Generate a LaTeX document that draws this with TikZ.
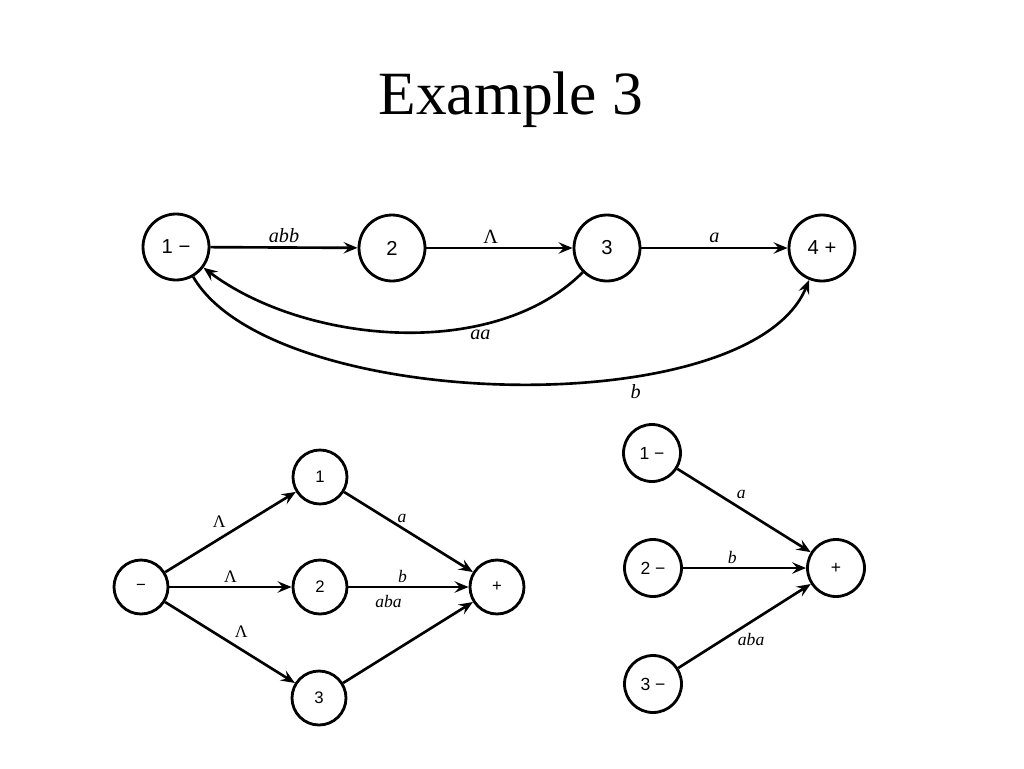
\documentclass[tikz,border=0pt]{standalone}
\usepackage{fontspec}
\setmainfont{Liberation Serif}
\newfontfamily\statefont{Liberation Sans}
\usetikzlibrary{arrows.meta}

\tikzset{
  state/.style={draw,circle,line width=1.6pt,inner sep=0pt,minimum size=1.32cm,
    font=\statefont\fontsize{11.5}{13}\selectfont},
  smallstate/.style={state,minimum size=1.08cm,font=\statefont\fontsize{9.5}{11}\selectfont},
  midstate/.style={state,minimum size=1.14cm,font=\statefont\fontsize{10}{11}\selectfont},
  edge/.style={->,line width=1.5pt},
  lab/.style={font=\itshape\fontsize{11.5}{13}\selectfont,inner sep=2pt},
  smalllab/.style={font=\itshape\fontsize{10}{12}\selectfont,inner sep=2pt}
}

\begin{document}
\begin{tikzpicture}[x=0.02cm,y=0.02cm,>={Stealth[length=8pt,width=6.5pt,inset=3pt]}]
\useasboundingbox (0,0) rectangle (1024,-768);
\node[font=\fontsize{35}{40}\selectfont] (title) at (511,-100) {Example 3};

% top automaton
\node[state] (t1) at (176,-247) {1 −};
\node[state] (t2) at (392,-248) {2};
\node[state] (t3) at (607,-248) {3};
\node[state] (t4) at (822,-248) {4 +};
\draw[edge] (t1) -- node[above,lab] {abb} (t2);
\draw[edge] (t2) -- node[above,lab,xshift=-5pt] {\upshape Λ} (t3);
\draw[edge] (t3) -- node[above,lab] {a} (t4);
\draw[edge] (t3) to[out=225,in=-37,looseness=0.85] node[pos=0.3,below,lab] {aa} (t1);
\draw[edge] (t1) to[out=-60,in=-112,looseness=0.65] node[pos=0.66,below=3pt,lab] {b} (t4);

% bottom left
\node[smallstate] (m) at (141,-587) {−};
\node[smallstate] (p1) at (320,-477) {1};
\node[smallstate] (p2) at (320,-587) {2};
\node[smallstate] (p3) at (319,-698) {3};
\node[smallstate] (f) at (497,-587) {+};
\draw[edge] (m) -- node[above left,smalllab] {\upshape Λ} (p1);
\draw[edge] (m) -- node[above,smalllab] {\upshape Λ} (p2);
\draw[edge] (m) -- node[above right,smalllab] {\upshape Λ} (p3);
\draw[edge] (p1) -- node[pos=0.45,above,smalllab] {a} (f);
\draw[edge] (p2) -- node[pos=0.45,above,smalllab] {b} (f);
\draw[edge] (p3) -- node[pos=0.35,above=0.85cm,smalllab] {aba} (f);

% bottom right
\node[midstate] (r1) at (652,-453) {1 −};
\node[midstate] (r2) at (653,-568) {2 −};
\node[midstate] (r3) at (653,-684) {3 −};
\node[midstate] (rf) at (836,-568) {+};
\draw[edge] (r1) -- node[pos=0.48,above=3pt,smalllab] {a} (rf);
\draw[edge] (r2) -- node[pos=0.4,above,smalllab] {b} (rf);
\draw[edge] (r3) -- node[pos=0.55,below=4pt,smalllab] {aba} (rf);
\end{tikzpicture}
\end{document}
